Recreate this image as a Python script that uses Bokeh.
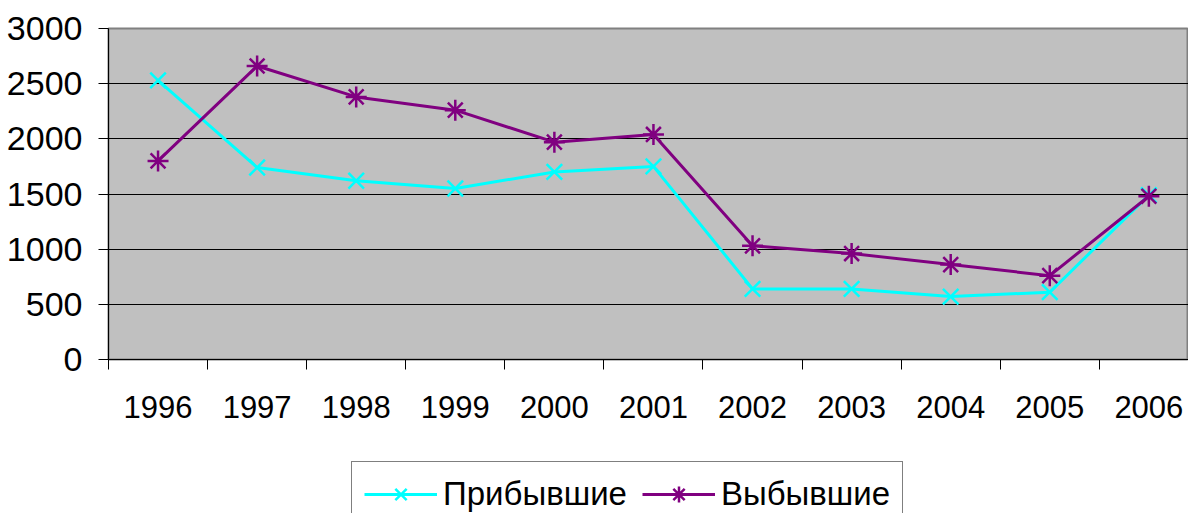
from bokeh.plotting import figure
from bokeh.layouts import column
from bokeh.models import Range1d, FixedTicker, Legend, LegendItem
from bokeh.embed import file_html
from bokeh.resources import INLINE

years = ["1996", "1997", "1998", "1999", "2000", "2001", "2002", "2003", "2004", "2005", "2006"]
arrived = [2530, 1740, 1620, 1550, 1700, 1750, 640, 640, 570, 610, 1490]
departed = [1800, 2660, 2380, 2260, 1970, 2040, 1030, 960, 860, 760, 1480]
y_ticks = [0, 500, 1000, 1500, 2000, 2500, 3000]
series_names = ["Прибывшие", "Выбывшие"]

FONT = "Liberation Sans"
CYAN = "#00FFFF"
PURPLE = "#800080"

xs = [i + 0.5 for i in range(len(years))]

p = figure(width=1188, height=459, output_backend="svg", toolbar_location=None,
           x_range=Range1d(0, 10.9), y_range=Range1d(0, 3000),
           min_border_left=108, min_border_right=0, min_border_top=28, min_border_bottom=100)

p.background_fill_color = "#C0C0C0"
p.border_fill_color = "white"
p.outline_line_color = "#808080"
p.outline_line_width = 2

p.xgrid.visible = False
p.ygrid.grid_line_color = "black"
p.ygrid.grid_line_width = 1
p.ygrid.ticker = FixedTicker(ticks=y_ticks)

# y axis
p.yaxis.ticker = FixedTicker(ticks=y_ticks)
p.yaxis.major_tick_in = 0
p.yaxis.major_tick_out = 10
p.yaxis.minor_tick_line_color = None
p.yaxis.axis_line_color = "black"
p.yaxis.major_tick_line_color = "black"
p.yaxis.major_label_text_font = FONT
p.yaxis.major_label_text_font_size = "34px"
p.yaxis.major_label_text_color = "black"
p.yaxis.major_label_standoff = 16

# x axis: labels at category centers, tick marks between
p.xaxis.ticker = FixedTicker(ticks=xs, minor_ticks=list(range(0, 11)))
p.xaxis.major_label_overrides = {x: y for x, y in zip(xs, years)}
p.xaxis.major_tick_in = 0
p.xaxis.major_tick_out = 0
p.xaxis.minor_tick_in = 0
p.xaxis.minor_tick_out = 10
p.xaxis.minor_tick_line_color = "black"
p.xaxis.axis_line_color = "black"
p.xaxis.major_label_text_font = FONT
p.xaxis.major_label_text_font_size = "31px"
p.xaxis.major_label_text_color = "black"
p.xaxis.major_label_standoff = 26

p.line(xs, arrived, line_color=CYAN, line_width=3)
p.scatter(xs, arrived, marker="x", size=22, line_color=CYAN, line_width=2.5)
p.line(xs, departed, line_color=PURPLE, line_width=3)
p.scatter(xs, departed, marker="asterisk", size=21, line_color=PURPLE, line_width=2.5)

# legend strip below the chart (its series lie outside its visible range)
p2 = figure(width=1188, height=54, output_backend="svg", toolbar_location=None,
            x_range=Range1d(0, 1), y_range=Range1d(-1, 0),
            x_axis_type=None, y_axis_type=None,
            min_border_left=0, min_border_right=0, min_border_top=0, min_border_bottom=0)
p2.outline_line_color = None
p2.grid.visible = False
p2.background_fill_color = "white"
p2.border_fill_color = "white"

l1 = p2.line(xs, arrived, line_color=CYAN, line_width=3)
m1 = p2.scatter(xs, arrived, marker="x", size=22, line_color=CYAN, line_width=2.5)
l2 = p2.line(xs, departed, line_color=PURPLE, line_width=3)
m2 = p2.scatter(xs, departed, marker="asterisk", size=21, line_color=PURPLE, line_width=2.5)

legend = Legend(items=[LegendItem(label=series_names[0], renderers=[l1, m1]),
                       LegendItem(label=series_names[1], renderers=[l2, m2])],
                orientation="horizontal", location=(243, -14),
                label_text_font=FONT, label_text_font_size="33px", label_text_color="black",
                glyph_width=73, glyph_height=40, label_standoff=6, spacing=15,
                padding=12, margin=0, border_line_color="black", border_line_width=1,
                background_fill_color="white", background_fill_alpha=1)
p2.add_layout(legend, "center")

layout = column(p, p2, spacing=0)
open("out.html", "w").write(file_html(layout, INLINE))
